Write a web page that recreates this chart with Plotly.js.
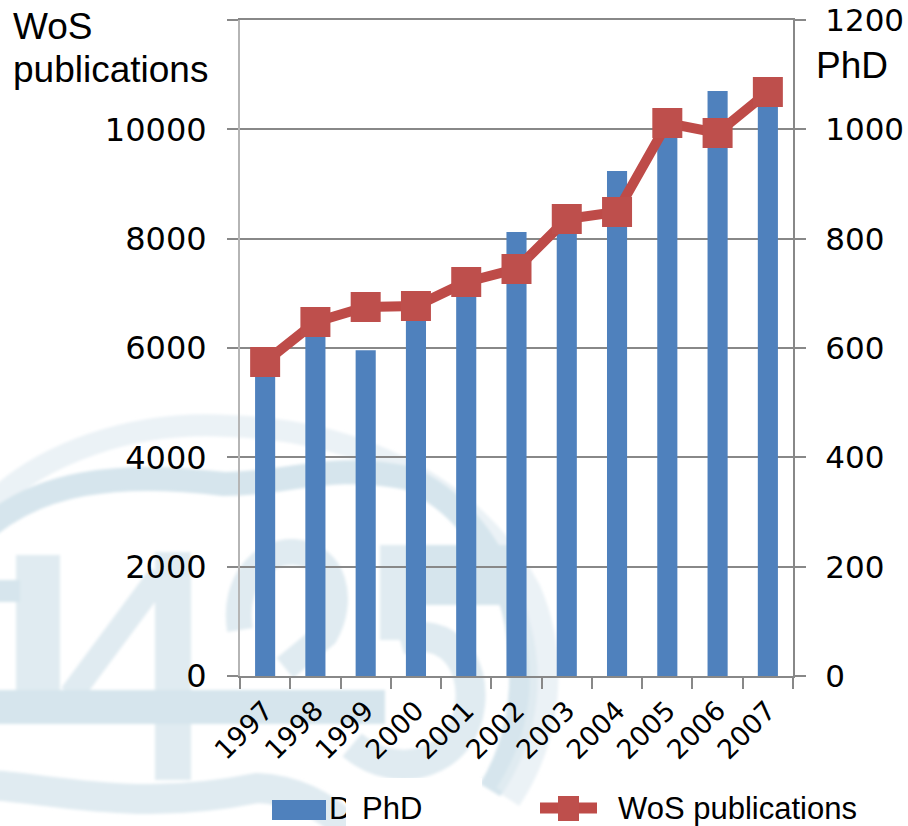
<!DOCTYPE html>
<html>
<head>
<meta charset="utf-8">
<script src="https://cdn.plot.ly/plotly-3.0.1.min.js"></script>
<style>html,body{margin:0;padding:0;background:#fff}</style>
</head>
<body>
<div id="chart" style="width:908px;height:826px"></div>
<script>
const years = ['1997','1998','1999','2000','2001','2002','2003','2004','2005','2006','2007'];
const phdValues = [570, 630, 596, 655, 710, 812, 830, 924, 990, 1070, 1075];
const wosValues = [5744, 6476, 6750, 6768, 7207, 7445, 8360, 8488, 10116, 9933, 10683];
const leftTicks = [0, 2000, 4000, 6000, 8000, 10000, 12000];
const leftTickLabels = ['0', '2000', '4000', '6000', '8000', '10000', ''];
const rightTicks = [0, 200, 400, 600, 800, 1000, 1200];

const W = 908, H = 826, L = 240, R = 793, T = 20, B = 676;
const px = x => (x - L) / (R - L);
const py = y => (B - y) / (B - T);

// Faded logo that sits behind the chart
const dark = '#d6e5ed', mid = '#e0ebf1', light = '#ebf2f6';
const logo = `<svg xmlns="http://www.w3.org/2000/svg" width="${W}" height="${H}" viewBox="0 0 ${W} ${H}">
<defs><filter id="b"><feGaussianBlur stdDeviation="1.6"/></filter></defs>
<g fill="none" stroke-linecap="butt" filter="url(#b)">
<path d="M-10,505 C40,455 130,420 229,426 C350,430 470,480 530,590 C560,660 550,740 510,800" stroke="${light}" stroke-width="22"/>
<path d="M-10,525 C40,485 110,470 224,484 C290,484 330,462 408,478 C470,505 515,575 520,650 C525,700 515,750 490,790" stroke="${dark}" stroke-width="24"/>
<path d="M500,560 C545,640 545,720 500,790" stroke="${mid}" stroke-width="8"/>
<path d="M-10,785 C60,790 140,812 257,788 C300,790 330,810 350,830" stroke="${mid}" stroke-width="30"/>
<path d="M38,555 L38,692" stroke="${mid}" stroke-width="44"/>
<path d="M-5,591 L20,591" stroke="${dark}" stroke-width="22"/>
<path d="M71,695 L160,575" stroke="${mid}" stroke-width="24"/>
<path d="M173,552 L173,780" stroke="${mid}" stroke-width="36"/>
<path d="M-5,707 L385,707" stroke="${dark}" stroke-width="34"/>
<path d="M240,630 C232,580 265,550 294,552 C335,555 345,600 325,635 L285,668" stroke="${mid}" stroke-width="26"/>
<path d="M382,575 L522,575" stroke="${dark}" stroke-width="60"/>
<path d="M394,545 L394,640" stroke="${mid}" stroke-width="28"/>
<path d="M400,640 C450,625 475,665 470,705 C465,760 400,785 352,745" stroke="${mid}" stroke-width="30"/>
</g></svg>`;

const phdTrace = {
  type: 'bar', x: years, y: phdValues, name: 'PhD', yaxis: 'y', xaxis: 'x',
  width: 0.4, marker: {color: '#4F81BD', line: {width: 0}}, showlegend: false
};
const wosTrace = {
  type: 'scatter', mode: 'lines+markers', x: years, y: wosValues, name: 'WoS publications',
  yaxis: 'y2', xaxis: 'x',
  line: {color: '#BE4B48', width: 10},
  marker: {symbol: 'square', size: 30, color: '#BE4F4C', line: {width: 0}},
  showlegend: false
};

const serif = 'DejaVu Sans, Verdana, sans-serif';
const arial = 'Liberation Sans, Arial, sans-serif';
const axisGrey = '#888888';

const label = (text, x, y, size) => ({
  text, xref: 'paper', yref: 'paper', x: px(x - 2), y: py(y), xanchor: 'left', yanchor: 'middle',
  showarrow: false, font: {family: arial, size, color: '#000'}, align: 'left'
});

const layout = {
  width: W, height: H, autosize: false,
  margin: {l: L, r: W - R, t: T, b: H - B, pad: 0},
  paper_bgcolor: '#ffffff', plot_bgcolor: 'rgba(0,0,0,0)',
  showlegend: false, bargap: 0.6,
  xaxis: {
    type: 'category', range: [-0.5, 10.5], tickson: 'boundaries', tickangle: -45,
    ticks: 'outside', ticklen: 11, tickwidth: 2, tickcolor: axisGrey,
    showline: true, mirror: true, linecolor: axisGrey, linewidth: 2, showgrid: false,
    tickfont: {family: serif, size: 27, color: '#000'}, ticklabelstandoff: 6
  },
  yaxis: {
    side: 'right', range: [0, 1200], tickvals: rightTicks, ticktext: rightTicks.map(String),
    ticks: 'outside', ticklen: 11, tickwidth: 2, tickcolor: axisGrey,
    showline: true, linecolor: axisGrey, linewidth: 2,
    showgrid: true, gridcolor: axisGrey, gridwidth: 2, zeroline: false,
    tickfont: {family: serif, size: 31, color: '#000'}, ticklabelstandoff: 13
  },
  yaxis2: {
    overlaying: 'y', side: 'left', range: [0, 12000],
    tickvals: leftTicks, ticktext: leftTickLabels,
    ticks: 'outside', ticklen: 11, tickwidth: 2, tickcolor: axisGrey,
    showline: true, linecolor: '#b5b5b5', linewidth: 2, showgrid: false, zeroline: false,
    tickfont: {family: serif, size: 32, color: '#000'}, ticklabelstandoff: 14
  },
  images: [{
    source: 'data:image/svg+xml;charset=utf-8,' + encodeURIComponent(logo),
    xref: 'paper', yref: 'paper', x: px(0), y: py(0),
    sizex: W / (R - L), sizey: H / (B - T),
    xanchor: 'left', yanchor: 'top', sizing: 'stretch', layer: 'below'
  }],
  shapes: [
    {type: 'rect', xref: 'paper', yref: 'paper', x0: px(272), x1: px(326), y0: py(800), y1: py(820),
     fillcolor: '#4F81BD', line: {width: 0}, layer: 'above'},
    {type: 'line', xref: 'paper', yref: 'paper', x0: px(540), x1: px(597), y0: py(808), y1: py(808),
     line: {color: '#BE4B48', width: 11}, layer: 'above'},
    {type: 'rect', xref: 'paper', yref: 'paper', x0: px(558), x1: px(579), y0: py(796), y1: py(821),
     fillcolor: '#BE4F4C', line: {width: 0}, layer: 'above'}
  ],
  annotations: [
    label('WoS', 13, 27, 37),
    label('publications', 13, 70, 37),
    label('PhD', 816, 65, 37),
    label('D', 329, 808, 31),
    {text: ' ', xref: 'paper', yref: 'paper', x: px(346), y: py(778), xanchor: 'left', yanchor: 'top',
     width: 136, height: 48, bgcolor: '#ffffff', showarrow: false, borderpad: 0, borderwidth: 0},
    label('PhD', 362, 808, 31),
    label('WoS publications', 618, 808, 31)
  ]
};

Plotly.newPlot('chart', [phdTrace, wosTrace], layout, {displayModeBar: false, staticPlot: true});
</script>
</body>
</html>
